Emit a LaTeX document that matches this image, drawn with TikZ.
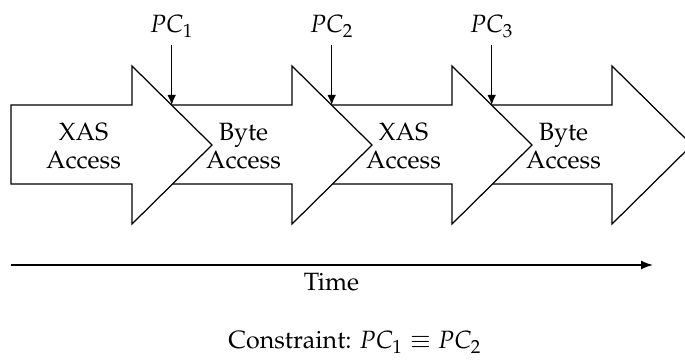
\documentclass[tikz,border=0pt]{standalone}
\usepackage[T1]{fontenc}
\usepackage{mathpazo}
\usetikzlibrary{arrows.meta}

\tikzset{
  blockarrow/.style={draw=black, fill=white, line width=0.5pt, line join=miter},
  phase/.style={align=center, inner sep=0pt, anchor=north, font={\fontsize{10}{11}\selectfont}},
  marker/.style={draw=black, line width=0.5pt, -{Latex[length=4pt,width=3.4pt]}},
  timeline/.style={draw=black, line width=0.6pt, -{Latex[length=4.8pt,width=3.6pt]}},
  caption/.style={inner sep=0pt, anchor=base, font={\fontsize{10}{12}\selectfont}}
}

\begin{document}
\begin{tikzpicture}[x=0.4pt, y=-0.4pt]
  \useasboundingbox (0,0) rectangle (685,364);

  % block arrows, drawn right to left so each one covers the start of the next
  \foreach \i in {3,2,1,0} {
    \pgfmathsetmacro{\dx}{160*\i}
    \pgfmathsetmacro{\left}{\i==0 ? 11 : 132+\dx-140}
    \draw[blockarrow] (\left,105) -- (132+\dx,105) -- (132+\dx,66)
      -- (212+\dx,145) -- (132+\dx,224) -- (132+\dx,184) -- (\left,184) -- cycle;
  }

  % phase labels
  \node[phase] (ph1) at (83.5,123)  {XAS\\Access};
  \node[phase] (ph2) at (243.5,123) {Byte\\Access};
  \node[phase] (ph3) at (403.5,123) {XAS\\Access};
  \node[phase] (ph4) at (563.5,123) {Byte\\Access};

  % program counter markers
  \node[caption] (pc1) at (171.7,33) {$PC_1$};
  \node[caption] (pc2) at (331.7,33) {$PC_2$};
  \node[caption] (pc3) at (491.7,33) {$PC_3$};
  \coordinate (h1) at (171.7,105);
  \coordinate (h2) at (331.7,105);
  \coordinate (h3) at (491.7,105);
  \draw[marker] (pc1.south |- 0,45) -- (h1);
  \draw[marker] (pc2.south |- 0,45) -- (h2);
  \draw[marker] (pc3.south |- 0,45) -- (h3);

  % time axis
  \coordinate (t0) at (11,265);
  \coordinate (t1) at (653,265);
  \draw[timeline] (t0) -- (t1);
  \node[caption] (time) at (331.5,290.7) {Time};

  % constraint
  \node[caption] (con) at (355,349) {Constraint: $PC_1 \equiv PC_2$};
\end{tikzpicture}
\end{document}
